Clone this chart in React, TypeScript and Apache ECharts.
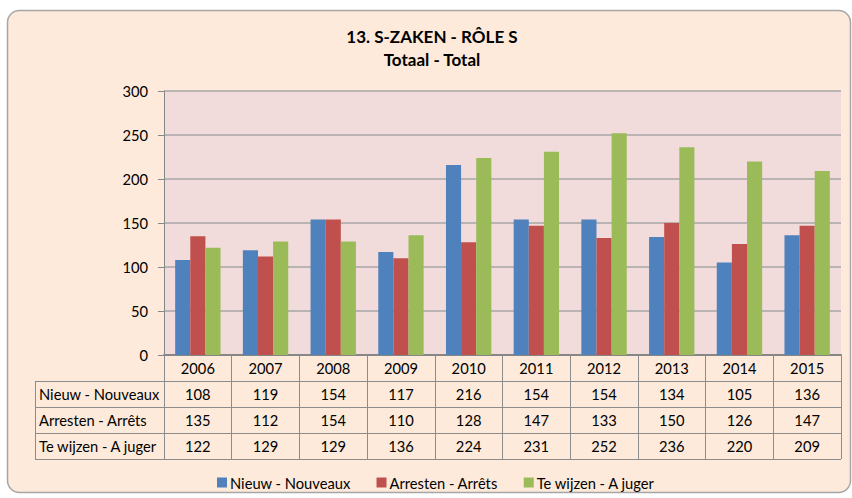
import React, { useEffect, useRef } from "react";
import * as echarts from "echarts";

const years = ["2006", "2007", "2008", "2009", "2010", "2011", "2012", "2013", "2014", "2015"];
const nieuw = [108, 119, 154, 117, 216, 154, 154, 134, 105, 136];
const arresten = [135, 112, 154, 110, 128, 147, 133, 150, 126, 147];
const teWijzen = [122, 129, 129, 136, 224, 231, 252, 236, 220, 209];
const seriesNames = ["Nieuw - Nouveaux", "Arresten - Arrêts", "Te wijzen - A juger"];
const seriesColors = ["#4F81BD", "#C0504D", "#9BBB59"];
const titleLines = ["13. S-ZAKEN - RÔLE S", "Totaal - Total"];

const FONT = "Lato, 'Open Sans', sans-serif";
const FS = 14.7;

export default function App() {
  const ref = useRef<HTMLDivElement>(null);
  useEffect(() => {
    const chart = echarts.init(ref.current!, null, { renderer: "svg" });
    const seriesData = [nieuw, arresten, teWijzen];
    const gridLeft = 164, gridTop = 91, gridRight = 841, gridBottom = 355;
    const rowH = 26;
    const tableLeft = 35;
    const lineColor = "#8C8C8C";
    const graphics: any[] = [
      {
        type: "rect",
        z: -10,
        shape: { x: 7.5, y: 10.5, width: 843, height: 482, r: 12 },
        style: { fill: "#FDEADA", stroke: "#A6A6A6", lineWidth: 1.5 },
      },
    ];
    for (let r = 1; r <= 4; r++) {
      const y = gridBottom + r * rowH + 0.5;
      graphics.push({
        type: "line",
        z: 10,
        shape: { x1: tableLeft, y1: y, x2: gridRight, y2: y },
        style: { stroke: lineColor, lineWidth: 1 },
      });
    }
    graphics.push({
      type: "line",
      z: 10,
      shape: { x1: tableLeft + 0.5, y1: gridBottom + rowH, x2: tableLeft + 0.5, y2: gridBottom + 4 * rowH },
      style: { stroke: lineColor, lineWidth: 1 },
    });
    seriesNames.forEach((n, i) => {
      graphics.push({
        type: "text",
        z: 10,
        x: tableLeft + 4,
        y: gridBottom + rowH * (i + 1) + rowH / 2,
        style: { text: n, fontFamily: FONT, fontSize: FS, fill: "#000", verticalAlign: "middle", align: "left" },
      });
    });
    titleLines.forEach((t, i) => {
      graphics.push({
        type: "text",
        z: 10,
        x: 432,
        y: 36 + i * 23,
        style: { text: t, fontFamily: FONT, fontSize: 17, fontWeight: "bold", fill: "#000", align: "center", verticalAlign: "middle" },
      });
    });

    chart.setOption({
      animation: false,
      backgroundColor: "#FFFFFF",
      textStyle: { fontFamily: FONT },
      grid: {
        left: gridLeft,
        top: gridTop,
        right: 852 - gridRight,
        bottom: 498 - gridBottom,
        show: true,
        backgroundColor: "#F2DCDB",
        borderWidth: 0,
      },
      legend: {
        left: 212,
        top: 470,
        icon: "rect",
        itemWidth: 10,
        itemHeight: 10,
        itemGap: 26,
        textStyle: { fontFamily: FONT, fontSize: FS, color: "#000", padding: [0, 0, 0, -2] },
        data: seriesNames,
      },
      xAxis: {
        type: "category",
        data: years,
        axisLine: { show: true, lineStyle: { color: "#868686", width: 2 } },
        axisTick: { show: true, length: rowH * 4, lineStyle: { color: lineColor, width: 1 } },
        axisLabel: {
          margin: 0,
          interval: 0,
          formatter: (v: string, idx: number) =>
            `{y|${v}}\n{v|${nieuw[idx]}}\n{v|${arresten[idx]}}\n{v|${teWijzen[idx]}}`,
          rich: {
            y: { fontFamily: FONT, fontSize: FS, lineHeight: rowH, color: "#000" },
            v: { fontFamily: FONT, fontSize: FS, lineHeight: rowH, color: "#000" },
          },
        },
      },
      yAxis: {
        type: "value",
        min: 0,
        max: 300,
        interval: 50,
        axisLine: { show: true, lineStyle: { color: "#868686", width: 1 } },
        axisTick: { show: true, length: 6, lineStyle: { color: "#868686" } },
        axisLabel: { fontFamily: FONT, fontSize: FS, color: "#000", margin: 16 },
        splitLine: { show: true, lineStyle: { color: "#A6A6A6", width: 1.5 } },
      },
      series: seriesData.map((d, i) => ({
        name: seriesNames[i],
        type: "bar",
        data: d,
        barGap: "0%",
        barCategoryGap: "33%",
        itemStyle: { color: seriesColors[i] },
      })),
      graphic: graphics,
    });
    return () => chart.dispose();
  }, []);
  return (
    <div
      ref={ref}
      style={{ position: "fixed", left: 0, top: 0, width: 852, height: 498 }}
    />
  );
}
